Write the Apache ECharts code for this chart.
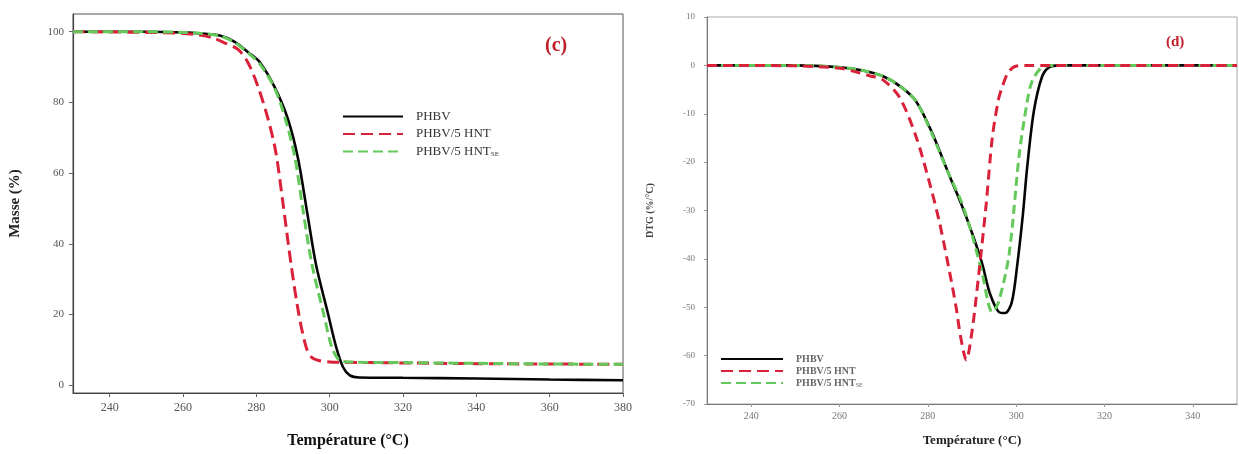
<!DOCTYPE html>
<html>
<head>
<meta charset="utf-8">
<script src="https://cdn.jsdelivr.net/npm/echarts@6/dist/echarts.min.js"></script>
<style>
html,body{margin:0;padding:0;background:#fff;}
#chart{width:1239px;height:454px;}
</style>
</head>
<body>
<div id="chart"></div>
<script>
// ---- Panel (c): TGA, mass (%) vs temperature (°C)
const tgaPHBV_T = [230, 250, 260, 265, 270, 274, 278, 281, 285, 288.6, 291.4, 294, 296.3, 299.6, 301.8, 303.7, 305.5, 308, 320, 340, 360, 380];
const tgaPHBV_M = [100, 100, 99.8, 99.5, 98.9, 97.2, 94, 91.3, 84.3, 75.3, 64, 48, 34, 20, 10.7, 5, 2.8, 2.2, 2.1, 1.9, 1.6, 1.4];

const tgaHNT_T = [230, 250, 260, 265, 268, 271, 275, 277.7, 280.4, 283.2, 285.3, 287.2, 289.5, 291.6, 293.6, 295, 297, 300, 303, 320, 340, 360, 380];
const tgaHNT_M = [100, 99.8, 99.5, 99, 98.3, 97, 95, 91.3, 84.6, 75.3, 66, 52, 34, 20, 10.7, 8, 7, 6.6, 6.5, 6.3, 6.1, 6.0, 5.9];

const tgaHNTSE_T = [230, 250, 260, 265, 270, 274, 278, 281, 285, 288, 290.5, 292.8, 295.2, 298.4, 300.6, 302.5, 305, 320, 340, 360, 380];
const tgaHNTSE_M = [100, 100, 99.8, 99.5, 98.8, 97, 93.8, 90.8, 84, 75, 64.5, 49, 34, 20, 10.7, 7.2, 6.6, 6.4, 6.2, 6.0, 5.9];

// ---- Panel (d): DTG (%/°C) vs temperature (°C)
const dtgPHBV_T = [230, 250, 260, 265, 270, 274, 277.4, 281, 284.8, 287.5, 290, 292.3, 294, 296.1, 297.5, 299, 300.2, 301.5, 302.5, 304, 305.8, 307.4, 310, 330, 350];
const dtgPHBV_D = [0, 0, -0.4, -1, -2.3, -4.5, -7.5, -14, -22.6, -28.5, -34.6, -41, -47, -51, -51.2, -49, -41.6, -31, -21, -9.5, -2.5, -0.4, 0, 0, 0];

const dtgHNT_T = [230, 250, 260, 263.9, 267, 269.7, 273.6, 277.4, 280.3, 282.6, 284.9, 286.4, 287.4, 288.7, 290, 291.6, 293.2, 294.6, 296, 296.8, 298, 299.5, 302, 330, 350];
const dtgHNT_D = [0, -0.1, -0.6, -1.4, -2.2, -2.9, -6.6, -14.9, -24, -32.3, -42.6, -50, -56, -60.9, -55, -42.6, -28.8, -14.9, -7, -4.6, -1.8, -0.3, 0, 0, 0];

const dtgHNTSE_T = [230, 250, 260, 265, 270, 274, 277.4, 281, 284.8, 287.5, 290, 292.3, 294.6, 296, 298.4, 300.7, 302.5, 303.6, 305.8, 308, 330, 350];
const dtgHNTSE_D = [0, 0, -0.4, -1, -2.3, -4.5, -7.5, -14.3, -22.6, -28, -35, -43, -51, -49, -39, -18.4, -7.5, -3.3, -0.4, 0, 0, 0];

// ---- axis ticks
const tgaXTicks = [240, 260, 280, 300, 320, 340, 360, 380];
const tgaYTicks = [0, 20, 40, 60, 80, 100];
const dtgXTicks = [240, 260, 280, 300, 320, 340];

const seriesNames = ['PHBV', 'PHBV/5 HNT', 'PHBV/5 HNTSE'];

function zip(xs, ys) { return xs.map((x, i) => [x, ys[i]]); }

const SERIF = '"Liberation Serif","DejaVu Serif",serif';
const BLACK = '#050505', RED = '#d9213a', GREEN = '#62c95a';

const chart = echarts.init(document.getElementById('chart'), null, {renderer: 'canvas'});

function legendFmt(name) {
  if (name === 'PHBV/5 HNTSE') return '{n|PHBV/5 HNT}{s|SE}';
  return '{n|' + name + '}';
}

function mkLine(name, data, xi, color, dash, width, z) {
  return {
    name: name, type: 'line', xAxisIndex: xi, yAxisIndex: xi,
    data: data, symbol: 'none', smooth: 0.3,
    lineStyle: {color: color, width: width, type: dash},
    itemStyle: {color: color}, z: z, animation: false
  };
}

const hiddenSymbol = {color: 'rgba(0,0,0,0)', borderWidth: 0, opacity: 0};

chart.setOption({
  animation: false,
  backgroundColor: '#fff',
  grid: [
    {left: 73, top: 14, right: 616, bottom: 58, show: true, borderColor: '#555', borderWidth: 1, backgroundColor: 'transparent'},
    {left: 707, top: 17, right: 2, bottom: 50, show: true, borderColor: '#aaa', borderWidth: 1, backgroundColor: 'transparent'}
  ],
  xAxis: [
    {
      gridIndex: 0, type: 'value', min: 230, max: 380,
      name: 'Température (°C)', nameLocation: 'middle', nameGap: 40,
      nameTextStyle: {fontFamily: SERIF, fontWeight: 'bold', fontSize: 16, color: '#111'},
      axisLine: {show: true, onZero: false, lineStyle: {color: '#444', width: 1.2}},
      axisTick: {show: true, length: 4, inside: false, customValues: tgaXTicks, lineStyle: {color: '#666'}},
      axisLabel: {customValues: tgaXTicks, fontFamily: SERIF, fontSize: 12, color: '#555', margin: 9},
      splitLine: {show: false}
    },
    {
      gridIndex: 1, type: 'value', min: 230, max: 350,
      name: 'Température (°C)', nameLocation: 'middle', nameGap: 30,
      nameTextStyle: {fontFamily: SERIF, fontWeight: 'bold', fontSize: 13, color: '#222'},
      axisLine: {show: true, onZero: false, lineStyle: {color: '#777', width: 1}},
      axisTick: {show: true, length: 3, inside: false, customValues: dtgXTicks, lineStyle: {color: '#999'}},
      axisLabel: {customValues: dtgXTicks, fontFamily: SERIF, fontSize: 10, color: '#777', margin: 7},
      splitLine: {show: false}
    }
  ],
  yAxis: [
    {
      gridIndex: 0, type: 'value', min: -2.2, max: 105,
      name: 'Masse (%)', nameLocation: 'middle', nameGap: 50, nameRotate: 90,
      nameTextStyle: {fontFamily: SERIF, fontWeight: 'bold', fontSize: 15, color: '#222'},
      axisLine: {show: true, onZero: false, lineStyle: {color: '#444', width: 1.2}},
      axisTick: {show: true, length: 4, inside: false, customValues: tgaYTicks, lineStyle: {color: '#666'}},
      axisLabel: {customValues: tgaYTicks, fontFamily: SERIF, fontSize: 11, color: '#555', margin: 9},
      splitLine: {show: false}
    },
    {
      gridIndex: 1, type: 'value', min: -70, max: 10, interval: 10,
      name: 'DTG (%/°C)', nameLocation: 'middle', nameGap: 52, nameRotate: 90,
      nameTextStyle: {fontFamily: SERIF, fontWeight: 'bold', fontSize: 10, color: '#444'},
      axisLine: {show: true, onZero: false, lineStyle: {color: '#777', width: 1}},
      axisTick: {show: true, length: 3, inside: false, lineStyle: {color: '#999'}},
      axisLabel: {fontFamily: SERIF, fontSize: 9, color: '#777', margin: 12},
      splitLine: {show: false}
    }
  ],
  legend: [
    {
      orient: 'vertical', left: 337, top: 105, itemWidth: 60, itemHeight: 14, itemGap: 4.5,
      data: seriesNames, selectedMode: false, formatter: legendFmt,
      itemStyle: hiddenSymbol,
      textStyle: {fontFamily: SERIF, fontSize: 13, color: '#333', padding: [0, 0, 0, 8],
        rich: {n: {fontFamily: SERIF, fontSize: 13, color: '#333'}, s: {fontFamily: SERIF, fontSize: 7, color: '#333', verticalAlign: 'bottom', padding: [6, 0, 0, 0]}}}
    },
    {
      orient: 'vertical', left: 715, top: 349, itemWidth: 62, itemHeight: 10, itemGap: 2,
      data: seriesNames, selectedMode: false, formatter: legendFmt,
      itemStyle: hiddenSymbol,
      textStyle: {fontFamily: SERIF, fontSize: 10, color: '#666', padding: [0, 0, 0, 8],
        rich: {n: {fontFamily: SERIF, fontSize: 10, color: '#666', fontWeight: 'bold'}, s: {fontFamily: SERIF, fontSize: 6, color: '#666', padding: [5, 0, 0, 0]}}}
    }
  ],
  graphic: [
    {type: 'text', left: 545, top: 36, style: {text: '(c)', font: 'bold 20px "Liberation Serif", serif', fill: '#c0202c'}},
    {type: 'text', left: 1166, top: 35, style: {text: '(d)', font: 'bold 15px "Liberation Serif", serif', fill: '#c0202c'}}
  ],
  series: [
    mkLine('PHBV', zip(tgaPHBV_T, tgaPHBV_M), 0, BLACK, 'solid', 2.6, 3),
    mkLine('PHBV/5 HNT', zip(tgaHNT_T, tgaHNT_M), 0, RED, [12, 6], 3, 4),
    mkLine('PHBV/5 HNTSE', zip(tgaHNTSE_T, tgaHNTSE_M), 0, GREEN, [10, 5], 3, 5),
    mkLine('PHBV', zip(dtgPHBV_T, dtgPHBV_D), 1, BLACK, 'solid', 2.6, 3),
    mkLine('PHBV/5 HNTSE', zip(dtgHNTSE_T, dtgHNTSE_D), 1, GREEN, [9, 5], 3, 4),
    mkLine('PHBV/5 HNT', zip(dtgHNT_T, dtgHNT_D), 1, RED, [10, 6], 3, 5)
  ]
});
</script>
</body>
</html>
